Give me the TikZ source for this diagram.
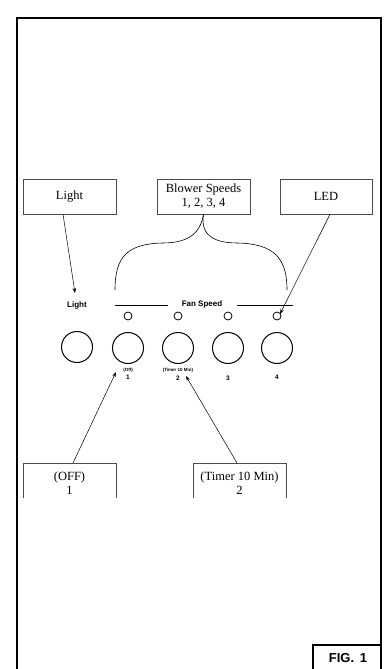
\documentclass[tikz,border=0pt]{standalone}
\usepackage{fontspec}
\setmainfont{Liberation Serif}
\newfontfamily\labsans{Liberation Sans}
\usetikzlibrary{arrows.meta}
\begin{document}
\begin{tikzpicture}[x=1pt,y=-1pt,
  callout/.style={draw=black!70,line width=0.5pt,inner sep=0pt,font=\fontsize{12.5}{14}\selectfont,align=center},
  calltext/.style={font=\fontsize{12.5}{14}\selectfont,align=center,inner sep=0pt},
  knob/.style={circle,draw,line width=1pt,minimum size=31pt,inner sep=0pt},
  led/.style={circle,draw,line width=0.8pt,minimum size=8pt,inner sep=0pt},
  panel/.style={font=\labsans\bfseries\fontsize{8}{9}\selectfont,inner sep=0pt},
  tiny/.style={font=\labsans\bfseries\fontsize{4.5}{5}\selectfont,inner sep=0pt},
  num/.style={font=\labsans\bfseries\fontsize{6.5}{7}\selectfont,inner sep=0pt},
  pointer/.style={line width=0.5pt,-{Stealth[length=5pt,width=3.5pt]}},
  thin/.style={line width=0.6pt}]
\useasboundingbox (0,0) rectangle (384,669);
% frame
\draw[line width=1.6pt] (17,672) -- (17,18) -- (381,18) -- (381,672);
\draw[line width=1.2pt] (313,672) -- (313,645) -- (381,645);
\node[font=\labsans\bfseries\fontsize{13}{14}\selectfont] (fig) at (348,658) {FIG.\ \,1};
% top callouts
\node[callout,minimum width=93pt,minimum height=35pt] (blight) at (69.5,196.5) {Light};
\node[callout,minimum width=93pt,minimum height=35pt] (bspeed) at (203.5,196.5) {Blower Speeds\\1, 2, 3, 4};
\node[callout,minimum width=92pt,minimum height=35pt] (bled) at (326,196.5) {LED};
% panel
\node[panel] (tlight) at (77,305) {Light};
\node[panel] (tfan) at (202,304) {Fan Speed};
\coordinate (l1a) at (115,305.5); \coordinate (l1b) at (168,305.5);
\coordinate (l2a) at (237,305.5); \coordinate (l2b) at (293,305.5);
\draw[thin] (l1a) -- (l1b);
\draw[thin] (l2a) -- (l2b);
\node[knob] (klight) at (77,347) {};
\node[knob] (k1) at (128,348) {};
\node[knob] (k2) at (178,348) {};
\node[knob] (k3) at (228,348) {};
\node[knob] (k4) at (277,348) {};
\node[led] (d1) at (128,316) {};
\node[led] (d2) at (178,316) {};
\node[led] (d3) at (228,316) {};
\node[led] (d4) at (277,316) {};
\node[tiny] (o1) at (128,370) {(Off)};
\node[num] (n1) at (128,377.5) {1};
\node[tiny] (o2) at (178,370) {(Timer 10 Min)};
\node[num] (n2) at (178,378) {2};
\node[num] (n3) at (228,378) {3};
\node[num] (n4) at (277,377.5) {4};
% brace
\coordinate (bl) at (115,290);
\coordinate (br) at (287,290);
\draw[line width=0.6pt] (bspeed.south) .. controls (200,236) and (185,243) .. (162,243)
  .. controls (126,244) and (115,258) .. (bl);
\draw[line width=0.6pt] (bspeed.south) .. controls (200,236) and (215,243) .. (238,243)
  .. controls (274,244) and (287,258) .. (br);
% pointers
\coordinate (plight) at (75,293);
\draw[pointer] (blight.south -| 63,0) -- (plight);
\coordinate (pled) at (280,314);
\draw[pointer] (bled.south -| 330,0) -- (pled);
% bottom callouts
\coordinate (oa) at (23,463); \coordinate (ob) at (116,463);
\draw[draw=black!70,line width=0.5pt] (23,498) -- (oa) -- (ob) -- (116,498);
\node[calltext] (toff) at (69.5,483) {(OFF)\\1};
\coordinate (ta) at (193,463); \coordinate (tb) at (286,463);
\draw[draw=black!70,line width=0.5pt] (193,498) -- (ta) -- (tb) -- (286,498);
\node[calltext] (ttim) at (239.5,483) {(Timer 10 Min)\\2};
\coordinate (poff) at (116,372);
\coordinate (ptim) at (186,376);
\draw[pointer] (73,463) -- (poff);
\draw[pointer] (237,463) -- (ptim);
\end{tikzpicture}
\end{document}
